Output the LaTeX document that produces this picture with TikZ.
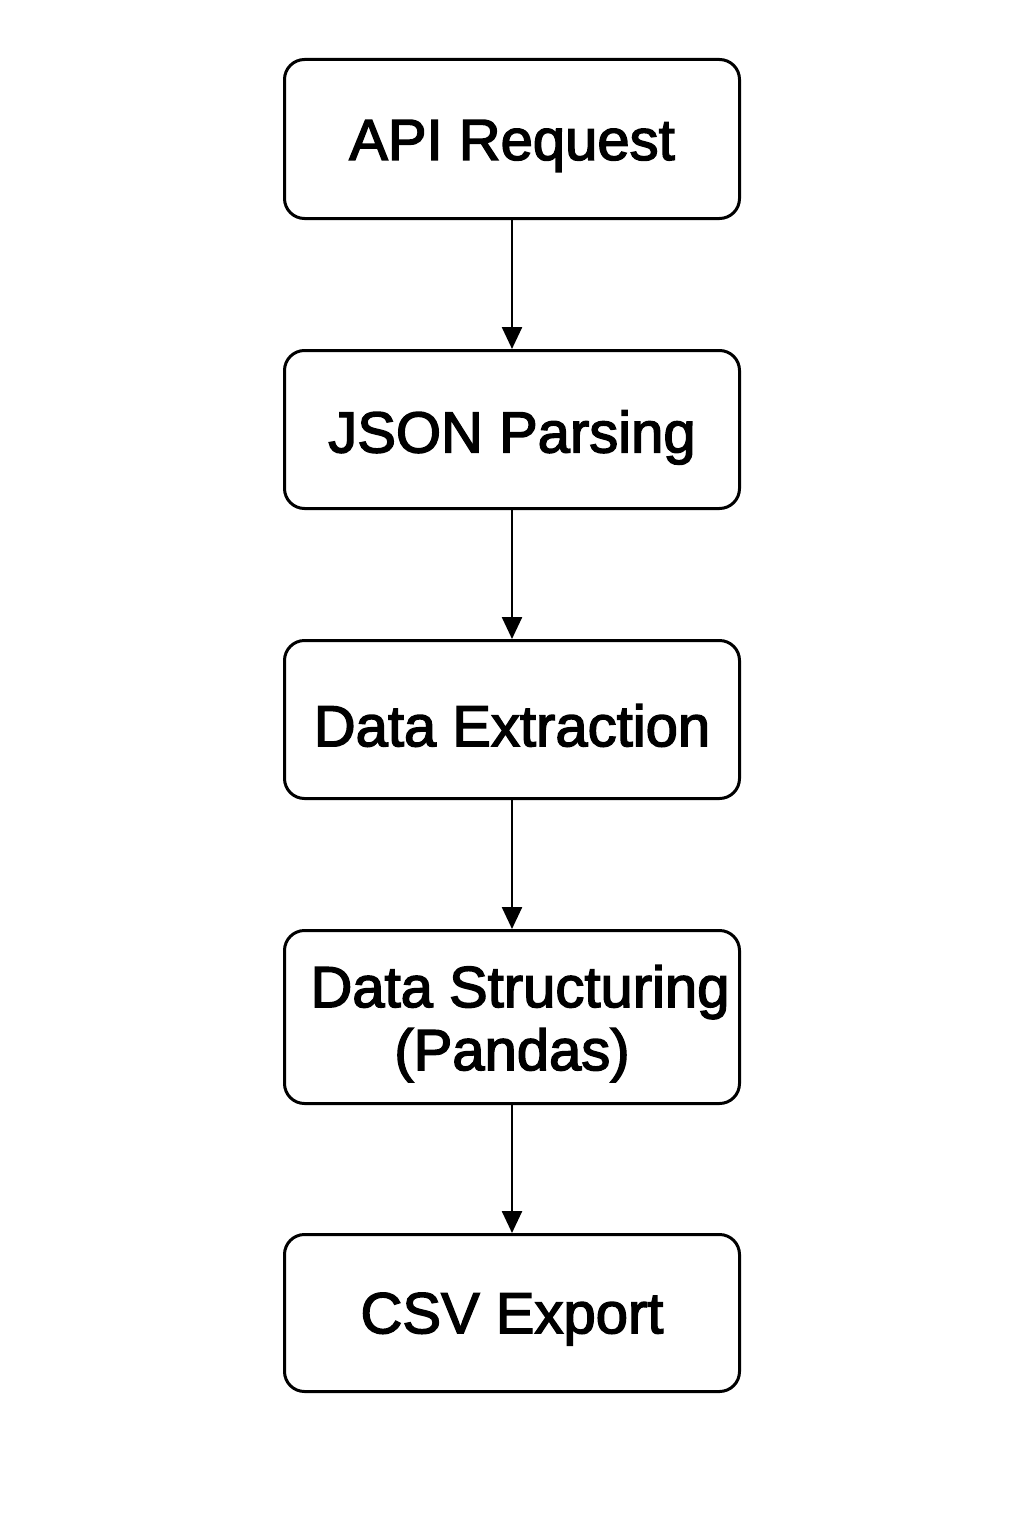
\documentclass[tikz,border=0pt]{standalone}
\usepackage{fontspec}
\setmainfont{Liberation Sans}
\newfontfamily\boxfont{Liberation Sans}[FakeBold=2.5]
\usetikzlibrary{arrows.meta}
\newcommand{\lowertext}[2]{\raisebox{-#1}[\height][\depth]{#2}}
\begin{document}
\begin{tikzpicture}[x=1pt,y=-1pt,
  stepbox/.style={draw=black, line width=3pt, rounded corners=20pt, inner sep=0pt,
    minimum width=455pt, align=center, font=\boxfont\fontsize{58}{63}\selectfont},
  flow/.style={line width=2.5pt, -{Triangle[width=20pt,length=22pt]}}]
\useasboundingbox[fill=white] (0,0) rectangle (1024,1536);
\node[stepbox, minimum height=159pt] (a) at (512,139) {\lowertext{7pt}{API Request}};
\node[stepbox, minimum height=158pt] (b) at (512,429.5) {\lowertext{8pt}{JSON Parsing}};
\node[stepbox, minimum height=158pt] (c) at (512,719.5) {\lowertext{6pt}{Data Extraction}};
\node[stepbox, minimum height=173pt] (d) at (512,1017) {\lowertext{9pt}{\begin{tabular}{@{}c@{}}\hspace*{16pt}Data Structuring\\(Pandas)\end{tabular}}};
\node[stepbox, minimum height=157pt] (e) at (512,1313) {\lowertext{6pt}{CSV Export}};
\draw[flow] (a.south) -- (b.north);
\draw[flow] (b.south) -- (c.north);
\draw[flow] (c.south) -- (d.north);
\draw[flow] (d.south) -- (e.north);
\end{tikzpicture}
\end{document}
